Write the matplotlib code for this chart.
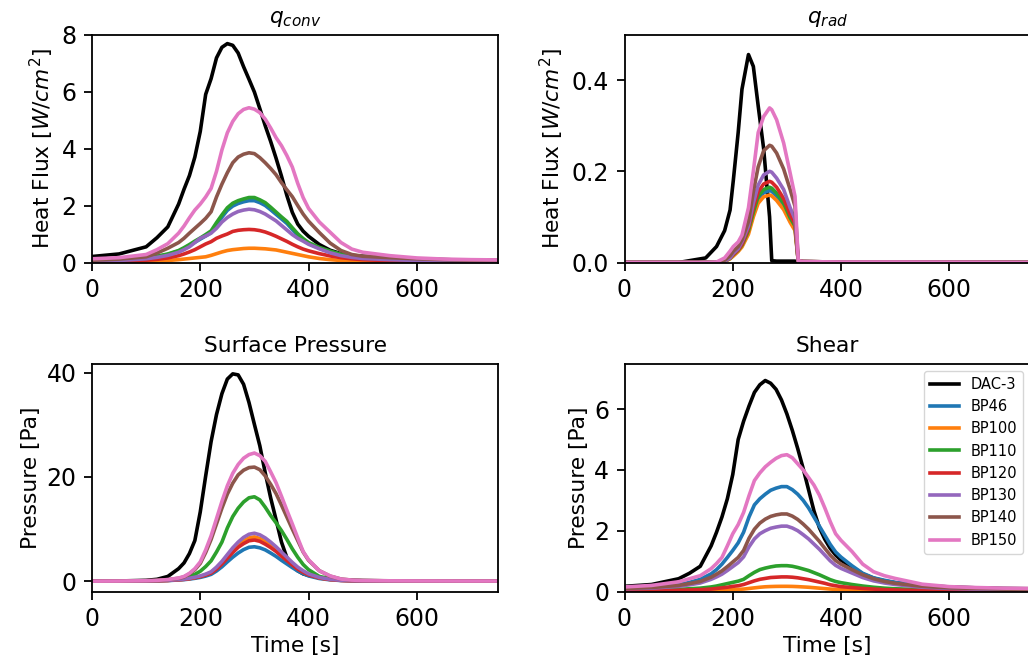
import numpy as np
import matplotlib.pyplot as plt

# time grid [s] for q_conv, pressure and shear
t = [0, 50, 100, 120, 140, 160, 170, 180, 190, 200, 210, 220, 230, 240, 250, 260, 270, 280,
     290, 300, 310, 320, 330, 340, 350, 360, 370, 380, 390, 400, 420, 440, 460, 480, 500,
     550, 600, 650, 700, 750]
# finer grid for the radiative flux
t_rad = [0, 100, 150, 170, 185, 195, 201, 210, 217, 229, 238, 247, 257, 268,
         272, 281, 294, 306, 315, 321, 330, 400, 500, 750]

names = ['DAC-3', 'BP46', 'BP100', 'BP110', 'BP120', 'BP130', 'BP140', 'BP150']
colors = ['black', '#1f77b4', '#ff7f0e', '#2ca02c', '#d62728', '#9467bd', '#8c564b', '#e377c2']

# convective heat flux [W/cm2]
qconv = {
    'DAC-3': [0.21, 0.3, 0.55, 0.87, 1.25, 2.05, 2.57, 3.05, 3.7, 4.6, 5.9, 6.45, 7.18, 7.55, 7.68,
              7.62, 7.35, 6.87, 6.43, 5.98, 5.4, 4.8, 4.25, 3.66, 3.03, 2.35, 1.76, 1.35, 1.1, 0.92,
              0.63, 0.43, 0.31, 0.25, 0.22, 0.17, 0.12, 0.1, 0.08, 0.07],
    'BP46': [0.05, 0.08, 0.16, 0.21, 0.28, 0.4, 0.49, 0.6, 0.71, 0.82, 0.93, 1.05, 1.33, 1.59, 1.83,
             1.98, 2.07, 2.13, 2.17, 2.17, 2.1, 2.0, 1.85, 1.69, 1.53, 1.37, 1.16, 0.96, 0.8, 0.67,
             0.5, 0.38, 0.28, 0.2, 0.16, 0.11, 0.08, 0.07, 0.06, 0.05],
    'BP100': [0.01, 0.02, 0.04, 0.05, 0.07, 0.1, 0.12, 0.14, 0.16, 0.18, 0.2, 0.25, 0.31, 0.37, 0.42,
              0.45, 0.47, 0.49, 0.5, 0.5, 0.49, 0.48, 0.46, 0.44, 0.4, 0.36, 0.32, 0.28, 0.24, 0.2,
              0.14, 0.1, 0.07, 0.05, 0.04, 0.02, 0.02, 0.01, 0.01, 0.01],
    'BP110': [0.05, 0.08, 0.17, 0.22, 0.3, 0.42, 0.52, 0.63, 0.75, 0.86, 0.98, 1.11, 1.4, 1.67, 1.92,
              2.08, 2.17, 2.23, 2.28, 2.28, 2.2, 2.1, 1.94, 1.77, 1.6, 1.44, 1.22, 1.01, 0.84, 0.7,
              0.53, 0.4, 0.29, 0.21, 0.17, 0.12, 0.09, 0.07, 0.06, 0.05],
    'BP120': [0.02, 0.04, 0.08, 0.11, 0.16, 0.24, 0.3, 0.37, 0.45, 0.55, 0.65, 0.73, 0.85, 0.93, 1.0,
              1.09, 1.13, 1.15, 1.16, 1.15, 1.12, 1.07, 1.0, 0.92, 0.83, 0.74, 0.64, 0.55, 0.47, 0.41,
              0.31, 0.23, 0.17, 0.13, 0.1, 0.06, 0.04, 0.03, 0.02, 0.02],
    'BP130': [0.05, 0.07, 0.13, 0.18, 0.25, 0.36, 0.45, 0.55, 0.7, 0.85, 0.93, 1.03, 1.2, 1.42, 1.58,
              1.7, 1.79, 1.84, 1.87, 1.85, 1.79, 1.7, 1.58, 1.46, 1.3, 1.14, 0.98, 0.85, 0.75, 0.64,
              0.48, 0.34, 0.24, 0.18, 0.14, 0.1, 0.07, 0.06, 0.05, 0.04],
    'BP140': [0.08, 0.12, 0.2, 0.33, 0.5, 0.7, 0.85, 1.03, 1.2, 1.37, 1.55, 1.78, 2.3, 2.75, 3.15,
              3.5, 3.7, 3.8, 3.85, 3.82, 3.68, 3.5, 3.3, 3.08, 2.8, 2.55, 2.31, 2.0, 1.7, 1.45,
              1.05, 0.68, 0.42, 0.28, 0.22, 0.17, 0.13, 0.1, 0.08, 0.07],
    'BP150': [0.13, 0.17, 0.28, 0.45, 0.66, 1.03, 1.28, 1.57, 1.84, 2.05, 2.3, 2.6, 3.2, 3.95, 4.55,
              4.95, 5.22, 5.37, 5.43, 5.38, 5.26, 5.03, 4.72, 4.38, 4.1, 3.75, 3.35, 2.78, 2.28, 1.9,
              1.42, 1.06, 0.7, 0.47, 0.36, 0.24, 0.16, 0.12, 0.1, 0.09],
}

# radiative heat flux [W/cm2]
qrad = {
    'DAC-3': [0, 0, 0.01, 0.035, 0.07, 0.115, 0.18, 0.285, 0.38, 0.456, 0.43, 0.343, 0.25, 0.1,
              0.004, 0.003, 0.003, 0.003, 0.003, 0, 0, 0, 0, 0],
    'BP46': [0, 0, 0, 0, 0.003, 0.009, 0.016, 0.026, 0.037, 0.068, 0.105, 0.138, 0.153, 0.158,
             0.156, 0.146, 0.125, 0.094, 0.076, 0.003, 0.002, 0.001, 0.001, 0],
    'BP100': [0, 0, 0, 0, 0.002, 0.008, 0.014, 0.024, 0.034, 0.062, 0.1, 0.13, 0.144, 0.148,
              0.146, 0.136, 0.116, 0.088, 0.07, 0.003, 0.002, 0.001, 0.001, 0],
    'BP110': [0, 0, 0, 0, 0.003, 0.009, 0.017, 0.027, 0.038, 0.07, 0.11, 0.145, 0.16, 0.165,
              0.163, 0.152, 0.13, 0.098, 0.08, 0.003, 0.002, 0.001, 0.001, 0],
    'BP120': [0, 0, 0, 0, 0.003, 0.01, 0.018, 0.028, 0.04, 0.075, 0.12, 0.155, 0.172, 0.178,
              0.176, 0.165, 0.14, 0.105, 0.085, 0.003, 0.002, 0.001, 0.001, 0],
    'BP130': [0, 0, 0, 0, 0.003, 0.01, 0.02, 0.03, 0.045, 0.08, 0.13, 0.17, 0.192, 0.2,
              0.198, 0.185, 0.16, 0.12, 0.095, 0.003, 0.002, 0.001, 0.001, 0],
    'BP140': [0, 0, 0, 0, 0.005, 0.015, 0.025, 0.035, 0.05, 0.09, 0.155, 0.21, 0.245, 0.257,
              0.255, 0.24, 0.205, 0.16, 0.123, 0.004, 0.002, 0.001, 0.001, 0],
    'BP150': [0, 0, 0, 0.001, 0.01, 0.025, 0.035, 0.045, 0.06, 0.12, 0.2, 0.285, 0.32, 0.339,
              0.335, 0.313, 0.262, 0.196, 0.145, 0.004, 0.002, 0.001, 0.001, 0],
}

# surface pressure [Pa]
pres = {
    'DAC-3': [0.0, 0.03, 0.15, 0.35, 0.9, 2.4, 3.5, 5.3, 7.8, 13.3, 20.2, 26.8, 32.0, 36.0, 38.8,
              39.8, 39.6, 37.8, 34.3, 30.1, 26.0, 20.8, 16.0, 11.8, 7.5, 4.5, 2.9, 2.0, 1.4, 1.1,
              0.7, 0.42, 0.25, 0.15, 0.1, 0.05, 0.03, 0.02, 0.02, 0.02],
    'BP46': [0, 0.01, 0.03, 0.06, 0.11, 0.22, 0.29, 0.4, 0.54, 0.72, 0.97, 1.3, 1.95, 2.75, 3.7,
             4.6, 5.4, 6.05, 6.5, 6.6, 6.4, 6.0, 5.4, 4.75, 4.0, 3.3, 2.6, 1.95, 1.45, 1.0,
             0.5, 0.25, 0.12, 0.06, 0.04, 0.02, 0.01, 0.01, 0.01, 0.01],
    'BP100': [0, 0.01, 0.04, 0.07, 0.14, 0.28, 0.37, 0.5, 0.69, 0.92, 1.24, 1.65, 2.5, 3.5, 4.7,
              5.9, 6.9, 7.7, 8.3, 8.5, 8.2, 7.6, 6.9, 6.1, 5.2, 4.2, 3.3, 2.5, 1.8, 1.3,
              0.64, 0.32, 0.15, 0.07, 0.05, 0.03, 0.02, 0.01, 0.01, 0.01],
    'BP110': [0, 0.01, 0.05, 0.1, 0.2, 0.4, 0.6, 0.9, 1.3, 1.9, 2.8, 3.9, 5.6, 7.5, 10.2,
              12.4, 14.0, 15.2, 16.0, 16.2, 15.6, 14.2, 12.6, 11.2, 9.7, 8.0, 6.2, 4.6, 3.2, 2.2,
              0.9, 0.45, 0.2, 0.12, 0.08, 0.04, 0.03, 0.02, 0.02, 0.01],
    'BP120': [0, 0.01, 0.03, 0.07, 0.13, 0.26, 0.34, 0.47, 0.65, 0.86, 1.16, 1.55, 2.3, 3.3, 4.4,
              5.5, 6.5, 7.2, 7.75, 7.9, 7.65, 7.1, 6.45, 5.7, 4.8, 3.95, 3.1, 2.3, 1.7, 1.2,
              0.6, 0.3, 0.14, 0.07, 0.04, 0.03, 0.02, 0.01, 0.01, 0.01],
    'BP130': [0, 0.01, 0.04, 0.08, 0.15, 0.3, 0.4, 0.55, 0.75, 1.0, 1.35, 1.8, 2.7, 3.8, 5.1,
              6.4, 7.5, 8.4, 9.0, 9.2, 8.9, 8.3, 7.5, 6.6, 5.6, 4.6, 3.6, 2.7, 2.0, 1.4,
              0.7, 0.35, 0.16, 0.08, 0.05, 0.03, 0.02, 0.01, 0.01, 0.01],
    'BP140': [0, 0.02, 0.08, 0.14, 0.28, 0.55, 0.8, 1.4, 2.2, 3.4, 5.5, 8.0, 11.0, 14.0, 16.7,
              18.8, 20.4, 21.3, 21.8, 21.9, 21.4, 20.2, 18.6, 16.8, 14.6, 12.3, 10.0, 7.8, 5.6, 4.0,
              2.0, 0.95, 0.4, 0.2, 0.12, 0.06, 0.04, 0.03, 0.02, 0.02],
    'BP150': [0, 0.02, 0.08, 0.15, 0.3, 0.6, 0.9, 1.5, 2.4, 3.7, 6.0, 8.7, 12.0, 15.3, 18.3,
              20.7, 22.4, 23.6, 24.3, 24.6, 24.1, 23.0, 21.0, 18.9, 16.3, 13.6, 11.0, 8.3, 5.7, 4.1,
              2.0, 1.0, 0.4, 0.2, 0.12, 0.06, 0.04, 0.03, 0.02, 0.02],
}

# shear [Pa]
shear = {
    'DAC-3': [0.17, 0.23, 0.42, 0.6, 0.83, 1.5, 1.95, 2.45, 3.05, 3.85, 5.0, 5.6, 6.1, 6.55, 6.8,
              6.94, 6.85, 6.65, 6.3, 5.84, 5.3, 4.7, 4.05, 3.35, 2.65, 2.1, 1.72, 1.42, 1.2, 1.03,
              0.8, 0.58, 0.44, 0.35, 0.29, 0.2, 0.15, 0.12, 0.1, 0.09],
    'BP46': [0.1, 0.14, 0.22, 0.3, 0.4, 0.58, 0.72, 0.9, 1.12, 1.35, 1.6, 1.95, 2.45, 2.85, 3.05,
             3.2, 3.33, 3.4, 3.45, 3.45, 3.35, 3.2, 3.0, 2.75, 2.45, 2.15, 1.85, 1.55, 1.3, 1.13,
             0.85, 0.6, 0.45, 0.37, 0.3, 0.18, 0.13, 0.1, 0.08, 0.07],
    'BP100': [0.01, 0.01, 0.01, 0.02, 0.02, 0.03, 0.035, 0.04, 0.05, 0.06, 0.07, 0.08, 0.1, 0.12, 0.14,
              0.155, 0.163, 0.168, 0.17, 0.17, 0.167, 0.16, 0.15, 0.14, 0.125, 0.11, 0.095, 0.08, 0.07, 0.06,
              0.045, 0.035, 0.03, 0.02, 0.02, 0.01, 0.01, 0.01, 0.01, 0.0],
    'BP110': [0.03, 0.04, 0.07, 0.09, 0.11, 0.15, 0.18, 0.22, 0.26, 0.3, 0.34, 0.4, 0.52, 0.63, 0.72,
              0.77, 0.81, 0.84, 0.85, 0.85, 0.83, 0.79, 0.74, 0.69, 0.62, 0.55, 0.47, 0.39, 0.33, 0.29,
              0.23, 0.18, 0.14, 0.11, 0.09, 0.06, 0.04, 0.03, 0.03, 0.02],
    'BP120': [0.02, 0.02, 0.04, 0.05, 0.06, 0.08, 0.1, 0.12, 0.14, 0.17, 0.19, 0.23, 0.29, 0.35, 0.4,
              0.43, 0.46, 0.47, 0.48, 0.48, 0.47, 0.45, 0.42, 0.39, 0.35, 0.31, 0.27, 0.22, 0.19, 0.16,
              0.13, 0.1, 0.08, 0.06, 0.05, 0.03, 0.02, 0.02, 0.01, 0.01],
    'BP130': [0.09, 0.11, 0.17, 0.22, 0.28, 0.4, 0.48, 0.57, 0.69, 0.82, 0.95, 1.14, 1.47, 1.73, 1.9,
              2.0, 2.08, 2.12, 2.15, 2.15, 2.09, 2.0, 1.87, 1.73, 1.56, 1.39, 1.2, 1.01, 0.86, 0.76,
              0.61, 0.46, 0.35, 0.28, 0.23, 0.14, 0.1, 0.08, 0.07, 0.06],
    'BP140': [0.1, 0.13, 0.2, 0.26, 0.33, 0.47, 0.57, 0.68, 0.82, 0.97, 1.12, 1.35, 1.75, 2.05, 2.25,
              2.38, 2.47, 2.52, 2.55, 2.55, 2.48, 2.37, 2.22, 2.05, 1.85, 1.65, 1.42, 1.2, 1.02, 0.9,
              0.72, 0.55, 0.42, 0.33, 0.27, 0.17, 0.12, 0.1, 0.08, 0.07],
    'BP150': [0.15, 0.2, 0.32, 0.42, 0.52, 0.75, 0.92, 1.12, 1.5, 1.9, 2.2, 2.6, 3.15, 3.65, 3.9,
              4.1, 4.25, 4.38, 4.47, 4.5, 4.4, 4.2, 4.0, 3.75, 3.5, 3.17, 2.75, 2.3, 1.9, 1.68,
              1.32, 0.9, 0.65, 0.52, 0.43, 0.24, 0.16, 0.13, 0.11, 0.1],
}

plt.rcParams['axes.linewidth'] = 1.3

fig = plt.figure(figsize=(10.28, 6.7), dpi=100)
W, H = 1028, 670
def box(x0, y0):
    # axes rectangle from pixel corner (top-left origin), 406x228 px
    return [x0 / W, 1 - (y0 + 228) / H, 406 / W, 228 / H]

ax1 = fig.add_axes(box(92, 34.5))
ax2 = fig.add_axes(box(624.5, 34.5))
ax3 = fig.add_axes(box(92, 363.5))
ax4 = fig.add_axes(box(624.5, 363.5))

panels = [
    (ax1, t, qconv, r'$q_{conv}$', r'Heat Flux [$W/cm^2$]', (0, 8)),
    (ax2, t_rad, qrad, r'$q_{rad}$', r'Heat Flux [$W/cm^2$]', (0, 0.5)),
    (ax3, t, pres, 'Surface Pressure', 'Pressure [Pa]', None),
    (ax4, t, shear, 'Shear', 'Pressure [Pa]', (0, 7.5)),
]

for ax, tt, data, title, ylab, ylim in panels:
    for n, c in zip(names, colors):
        ax.plot(tt, data[n], color=c, lw=2.6, label=n)
    ax.set_xlim(0, 750)
    if ylim is not None:
        ax.set_ylim(*ylim)
    ax.set_title(title, fontsize=15.7, pad=8)
    ax.set_ylabel(ylab, fontsize=15.7)
    ax.set_xticks([0, 200, 400, 600])
    ax.tick_params(labelsize=17, length=6, width=1.3, pad=5)

ax2.set_yticks([0.0, 0.2, 0.4])
ax3.set_yticks([0, 20, 40])
ax4.set_yticks([0, 2, 4, 6])
ax3.set_xlabel('Time [s]', fontsize=15.7)
ax4.set_xlabel('Time [s]', fontsize=15.7)
ax4.legend(loc='upper right', fontsize=10.5)

fig.savefig('out.png', dpi=100)
